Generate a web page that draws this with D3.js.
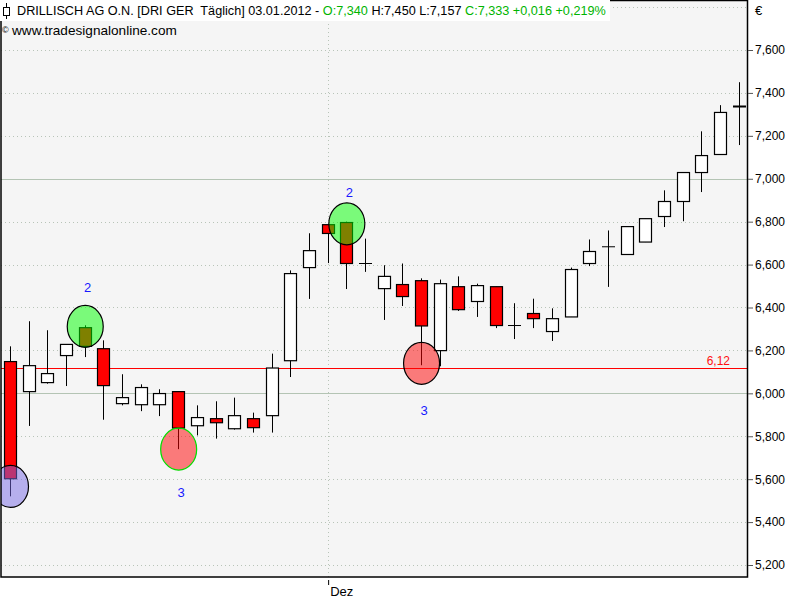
<!DOCTYPE html>
<html><head><meta charset="utf-8">
<script src="https://cdn.jsdelivr.net/npm/d3@7"></script>
<style>body{margin:0;background:#fff}svg{display:block;font-family:"Liberation Sans",Arial,sans-serif}</style>
</head><body><svg id="c" width="800" height="600"></svg>
<script>
// ---------- data ----------
const dates = ["2011-11-08","2011-11-09","2011-11-10","2011-11-11","2011-11-14","2011-11-15","2011-11-16","2011-11-17","2011-11-18","2011-11-21","2011-11-22","2011-11-23","2011-11-24","2011-11-25","2011-11-28","2011-11-29","2011-11-30",
"2011-12-01","2011-12-02","2011-12-05","2011-12-06","2011-12-07","2011-12-08","2011-12-09","2011-12-12","2011-12-13","2011-12-14","2011-12-15","2011-12-16","2011-12-19","2011-12-20","2011-12-21","2011-12-22","2011-12-23","2011-12-27","2011-12-28","2011-12-29","2011-12-30",
"2012-01-02","2012-01-03"];
const open  = [6.148,6.008,6.050,6.176,6.306,6.208,5.952,5.947,5.947,6.008,5.849,5.882,5.835,5.882,5.896,6.152,6.586,6.786,6.796,6.605,6.488,6.507,6.525,6.199,6.497,6.428,6.497,6.316,6.372,6.288,6.356,6.605,6.683,6.647,6.705,6.824,6.894,7.029,7.113,7.340];
const high  = [6.219,6.336,6.294,6.228,6.317,6.247,6.089,6.042,6.019,6.008,5.944,5.963,5.980,5.910,6.185,6.573,6.746,6.786,6.800,6.721,6.597,6.605,6.536,6.530,6.545,6.511,6.497,6.420,6.441,6.396,6.586,6.717,6.759,6.777,6.814,6.946,7.029,7.221,7.343,7.450];
const low   = [5.520,5.848,6.045,6.034,6.169,5.877,5.944,5.917,5.894,5.740,5.804,5.789,5.831,5.817,5.817,6.076,6.440,6.607,6.486,6.566,6.342,6.407,6.131,6.126,6.384,6.356,6.304,6.253,6.304,6.244,6.356,6.593,6.496,6.647,6.705,6.775,6.802,6.938,7.113,7.157];
const close = [5.602,6.129,6.092,6.228,6.219,6.036,5.980,6.027,5.999,5.838,5.887,5.863,5.896,5.840,6.118,6.558,6.665,6.745,6.605,6.605,6.545,6.451,6.314,6.511,6.390,6.502,6.316,6.316,6.348,6.348,6.577,6.661,6.683,6.777,6.814,6.894,7.029,7.108,7.309,7.333];

const yTicks = [5.2,5.4,5.6,5.8,6.0,6.2,6.4,6.6,6.8,7.0,7.2,7.4,7.6];
const yGrid = [5.2,5.4,5.6,5.8,6.0,6.2,6.4,6.6,6.8,7.0,7.2,7.4,7.6,7.8];
const ySolid = [6.0,7.0];
const xTickDates = ["2011-12-01"];
const xTickLabels = ["Dez"];

const supportValue = 6.12, supportLabel = "6,12";

const markerDates  = ["2011-11-08","2011-11-14","2011-11-21","2011-12-02","2011-12-08"];
const markerValues = [5.566, 6.312, 5.740, 6.790, 6.140];
const markerFills  = ["rgba(120,105,230,0.5)","rgba(0,255,0,0.5)","rgba(255,0,0,0.5)","rgba(0,255,0,0.5)","rgba(255,0,0,0.5)"];
const markerStrokes= ["#000","#000","#00e000","#000","#000"];
const markerLabels = ["", "2", "3", "2", "3"];
const labelValues  = [null, 6.494, 5.538, 6.937, 5.921];

const header1 = [["DRILLISCH AG O.N. [DRI GER  T\u00e4glich] 03.01.2012 - ","#000"],["O:7,340","#00b400"],[" H:7,450 L:7,157 ","#000"],["C:7,333 +0,016 +0,219%","#00b400"]];
const header2 = "www.tradesignalonline.com";

// ---------- layout ----------
const svg = d3.select("#c");
const PL = 1, PR = 747.5, PT = 0, PB = 577;
const x = d3.scalePoint().domain(dates).range([10, 738.7]);
const y = d3.scaleLinear().domain([5.2, 7.6]).range([565, 50]);
const fmt = d3.formatLocale({decimal:",", thousands:".", grouping:[3], currency:["","€"]}).format(".3f");

svg.append("defs").append("clipPath").attr("id","clip")
  .append("rect").attr("x",PL).attr("y",PT).attr("width",PR-PL).attr("height",PB-PT);

svg.append("rect").attr("x",PL).attr("y",PT).attr("width",PR-PL).attr("height",PB-PT).attr("fill","#f5f5f5");

const g = svg.append("g").attr("clip-path","url(#clip)");

// grid
g.selectAll("line.grid").data(yGrid).join("line")
  .attr("x1",PL).attr("x2",PR)
  .attr("y1",d=>Math.round(y(d))+0.5).attr("y2",d=>Math.round(y(d))+0.5)
  .attr("stroke", d=> ySolid.includes(d) ? "#b4c4b4" : "#b8c4b8")
  .attr("stroke-dasharray", d=> ySolid.includes(d) ? null : "1,3");
g.selectAll("line.vgrid").data(xTickDates).join("line")
  .attr("x1",d=>Math.round(x(d))+0.5).attr("x2",d=>Math.round(x(d))+0.5)
  .attr("y1",PT).attr("y2",PB)
  .attr("stroke","#b8c4b8").attr("stroke-dasharray","1,3");

// support line
g.append("line").attr("x1",PL).attr("x2",PR)
  .attr("y1",Math.round(y(supportValue))+0.5).attr("y2",Math.round(y(supportValue))+0.5)
  .attr("stroke","#ff0000");
g.append("text").attr("x",730).attr("y",y(supportValue)-3).attr("text-anchor","end")
  .attr("font-size",12).attr("fill","#ff1010").text(supportLabel);

// candles
const idx = d3.range(dates.length);
const cw = 6;
const c = g.selectAll("g.candle").data(idx).join("g");
c.append("line")
  .attr("x1",i=>Math.round(x(dates[i]))+0.5).attr("x2",i=>Math.round(x(dates[i]))+0.5)
  .attr("y1",i=>y(high[i])).attr("y2",i=>y(low[i])).attr("stroke","#000");
c.each(function(i){
  const sel = d3.select(this);
  const cx = Math.round(x(dates[i]))+0.5;
  const yo = y(open[i]), yc = y(close[i]);
  const h = Math.abs(yo-yc);
  if (h < 2) {
    sel.append("line").attr("x1",cx-cw-0.5).attr("x2",cx+cw+0.5)
      .attr("y1",(yo+yc)/2).attr("y2",(yo+yc)/2)
      .attr("stroke","#000").attr("stroke-width",Math.max(1,h+0.6));
  } else {
    sel.append("rect").attr("x",cx-cw).attr("width",2*cw)
      .attr("y",Math.min(yo,yc)).attr("height",h)
      .attr("fill", close[i] > open[i] ? "#ffffff" : "#ff0000")
      .attr("stroke","#000").attr("stroke-width",1.2);
  }
});

// markers
g.selectAll("ellipse.mk").data(d3.range(markerDates.length)).join("ellipse")
  .attr("cx",i=>x(markerDates[i])+0.5).attr("cy",i=>y(markerValues[i]))
  .attr("rx",18).attr("ry",21)
  .attr("fill",i=>markerFills[i]).attr("stroke",i=>markerStrokes[i]).attr("stroke-width",1.2);
g.selectAll("text.mk").data(d3.range(markerDates.length).filter(i=>markerLabels[i])).join("text")
  .attr("x",i=>x(markerDates[i])+3).attr("y",i=>y(labelValues[i])+4.7)
  .attr("text-anchor","middle").attr("font-size",13).attr("fill","#1818ff")
  .text(i=>markerLabels[i]);

// frame
svg.append("rect").attr("x",PL).attr("y",PT+0.5).attr("width",PR-PL).attr("height",PB-PT-0.5)
  .attr("fill","none").attr("stroke","#000").attr("stroke-width",1.5);

// y axis
const ya = svg.append("g").attr("transform",`translate(${PR+0.5},0)`)
  .call(d3.axisRight(y).tickValues(yTicks).tickSize(5).tickPadding(2).tickFormat(fmt));
ya.select(".domain").remove();
ya.selectAll("line").attr("stroke","#555");
ya.selectAll("text").attr("font-size",12).attr("fill","#000").attr("font-family","'Liberation Sans',Arial,sans-serif");
svg.append("text").attr("x",755).attr("y",15).attr("font-size",13).attr("fill","#000").text("\u20ac");

// x axis
const xa = svg.append("g").attr("transform",`translate(0,${PB+3})`)
  .call(d3.axisBottom(x).tickValues(xTickDates).tickSize(5).tickPadding(2).tickFormat((d,i)=>xTickLabels[i]));
xa.select(".domain").remove();
xa.selectAll("line").attr("stroke","#000").attr("transform","translate(0.5,0)");
xa.selectAll("text").attr("font-size",13).attr("fill","#000").attr("text-anchor","start").attr("dx",2)
  .attr("font-family","'Liberation Sans',Arial,sans-serif");

// header
const hb = svg.append("rect").attr("x",0).attr("y",0).attr("width",610).attr("height",21).attr("fill","#fff");
// icon
svg.append("line").attr("x1",6.5).attr("x2",6.5).attr("y1",3).attr("y2",19).attr("stroke","#000");
svg.append("rect").attr("x",3.5).attr("y",7.5).attr("width",6).attr("height",8).attr("fill","#fff").attr("stroke","#000");
const t1 = svg.append("text").attr("x",0).attr("y",0).attr("font-size",13);
header1.forEach(([s,col])=> t1.append("tspan").attr("fill",col).attr("xml:space","preserve").text(s));
t1.style("white-space","pre");
const w1 = t1.node().getComputedTextLength();
t1.attr("transform",`translate(17,15) scale(${(606-17)/w1},1)`);

svg.append("text").attr("x",2).attr("y",33).attr("font-size",9).attr("fill","#000").text("\u00a9");
const t2 = svg.append("text").attr("x",0).attr("y",0).attr("font-size",13).attr("fill","#000").text(header2);
const w2 = t2.node().getComputedTextLength();
t2.attr("transform",`translate(12,35) scale(${(177-12)/w2},1)`);
</script></body></html>
